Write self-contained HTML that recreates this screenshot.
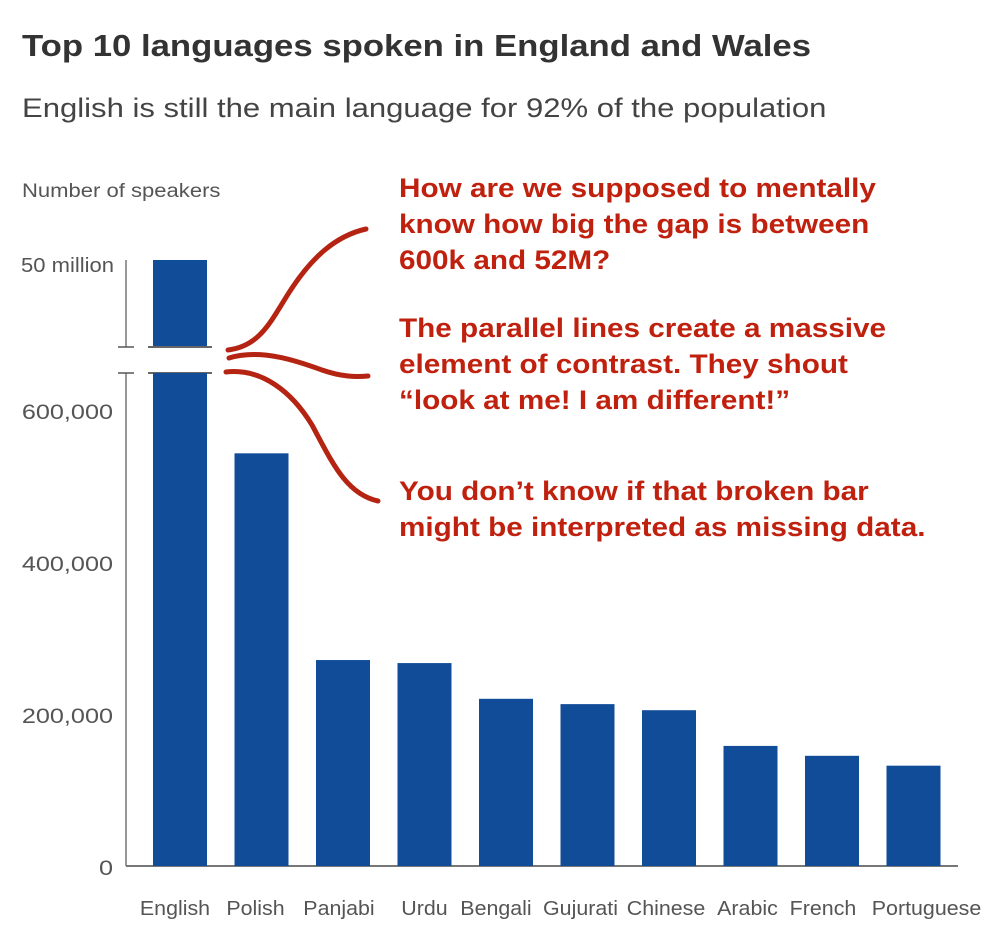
<!DOCTYPE html>
<html><head><meta charset="utf-8"><style>
body{margin:0;background:#fff;width:998px;height:940px;overflow:hidden;font-family:"Liberation Sans",sans-serif}
</style></head><body>
<svg width="998" height="940" style="position:absolute;left:0;top:0">
<text id="t1" x="22" y="56" font-size="31" font-weight="bold" fill="#333">Top 10 languages spoken in England and Wales</text>
<text id="t2" x="22" y="117" font-size="27" fill="#444">English is still the main language for 92% of the population</text>
<text id="t3" x="22" y="197" font-size="19" fill="#555">Number of speakers</text>
<g id="axes"></g>
<g id="bars"></g>
<g id="notes"></g>
</svg>
<script>
const categories=["English","Polish","Panjabi","Urdu","Bengali","Gujurati","Chinese","Arabic","French","Portuguese"];
const values=[52000000,543000,271000,267000,220000,213000,205000,158000,145000,132000];
const yTicks=[0,200000,400000,600000];
const yTickLabels=["0","200,000","400,000","600,000"];
const NS="http://www.w3.org/2000/svg";
function mk(t,a,p){const e=document.createElementNS(NS,t);for(const k in a)e.setAttribute(k,a[k]);p.appendChild(e);return e;}
function stretch(el,f){const w=el.getComputedTextLength();el.setAttribute('textLength',w*f);el.setAttribute('lengthAdjust','spacingAndGlyphs');}
stretch(document.getElementById('t1'),1.12);
stretch(document.getElementById('t2'),1.15);
stretch(document.getElementById('t3'),1.16);
const y0=866,k=0.76/1000,breakTop=373;
function y(v){return y0-v*k;}
function x(i){return 153+i*81.5;}
const bw=54;
const labelShift=[-5,-6,-4,0,-10,-7,-3,-3,-9,13];
const axes=document.getElementById('axes'),bars=document.getElementById('bars'),notes=document.getElementById('notes');
let l=mk('line',{x1:126,y1:y0,x2:958,y2:y0,stroke:'#777','stroke-width':2},axes);


l=mk('line',{x1:126,y1:373,x2:126,y2:y0,stroke:'#777','stroke-width':1.5},axes);


l=mk('line',{x1:126,y1:260,x2:126,y2:347,stroke:'#777','stroke-width':1.5},axes);


[347,373].forEach(yy=>{
 l=mk('line',{x1:118,y1:yy,x2:134,y2:yy,stroke:'#555','stroke-width':1.5},axes);
 
 
 l=mk('line',{x1:148,y1:yy,x2:212,y2:yy,stroke:'#333','stroke-width':1.5},axes);
 
 
});
yTicks.forEach((t,i)=>{
 const tx=mk('text',{x:113,y:y(t)+9,'font-size':21,fill:'#555','text-anchor':'end'},axes);
 tx.textContent=yTickLabels[i];
 
 
 stretch(tx,1.2);
});
let tx=mk('text',{x:114,y:272,'font-size':20,fill:'#555','text-anchor':'end'},axes);
tx.textContent="50 million";


stretch(tx,1.1);
categories.forEach((c,i)=>{
 const v=values[i];
 if(v>700000){
  let r=mk('rect',{x:x(i),y:breakTop,width:bw,height:y0-breakTop,fill:'#114c98'},bars);
  
  
  r=mk('rect',{x:x(i),y:260,width:bw,height:86,fill:'#114c98'},bars);
  
  
 } else {
  const r=mk('rect',{x:x(i),y:y(v),width:bw,height:y0-y(v),fill:'#114c98'},bars);
  
  
 }
 const t=mk('text',{x:x(i)+bw/2+labelShift[i],y:915,'font-size':20,fill:'#555','text-anchor':'middle'},bars);
 t.textContent=c;
 
 
 stretch(t,1.07);
});
const curves=["M228,350 C262,346 272,318 292,288 C312,258 335,236 366,229","M229,358 C262,348 300,362 322,370 C342,377 356,377 368,376","M226,372 C262,368 292,392 312,425 C332,462 346,494 378,501"];
curves.forEach(d=>{
 const p=mk('path',{d:d,stroke:'#b52412','stroke-width':5,fill:'none','stroke-linecap':'round'},notes);
 
 
});
const noteLines=[[197,"How are we supposed to mentally"],[233,"know how big the gap is between"],[269,"600k and 52M?"],[337,"The parallel lines create a massive"],[373,"element of contrast. They shout"],[409,"\u201clook at me! I am different!\u201d"],[500,"You don\u2019t know if that broken bar"],[536,"might be interpreted as missing data."]];
noteLines.forEach(n=>{
 const t=mk('text',{x:399,y:n[0],'font-size':27,'font-weight':'bold',fill:'#c0210f'},notes);
 t.textContent=n[1];
 
 
 stretch(t,1.1);
});
</script>
</body></html>
